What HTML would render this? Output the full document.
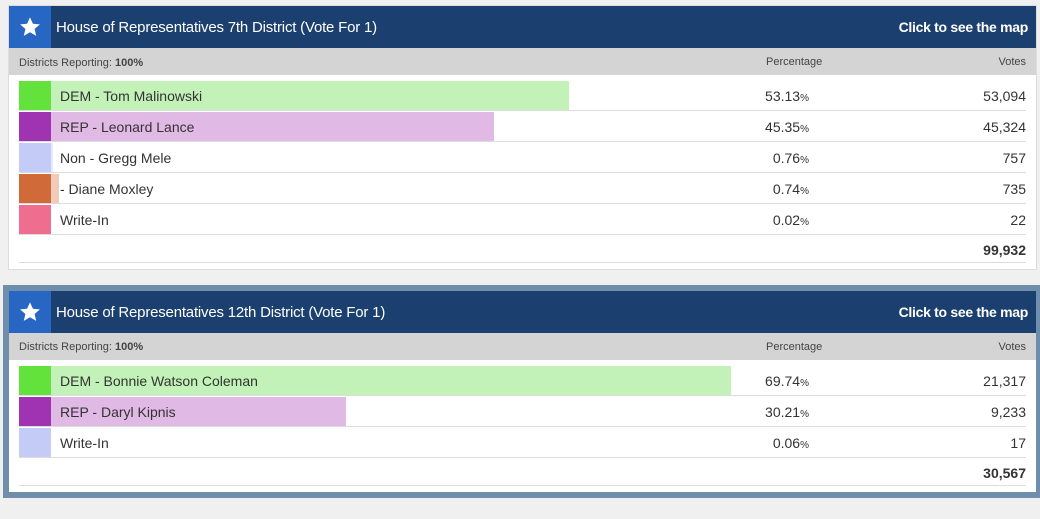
<!DOCTYPE html><html><head><style>
body{margin:0;width:1040px;height:519px;background:#f0f0f0;font-family:"Liberation Sans",sans-serif;position:relative;overflow:hidden;color:#333}
.a{position:absolute}
.panel{background:#fff}
.hd{background:#1b3f6e;color:#fff;font-size:15px}
.st{background:#2866c4}
.sub{background:#d4d4d4;font-size:11px;color:#444}
.t{font-size:14px;color:#333;white-space:nowrap}
.r{text-align:right}
.sep{height:1px;background:#ddd}
</style></head><body>
<!-- panel 1 -->
<div class="a panel" style="left:8px;top:5px;width:1029px;height:265px;border:1px solid #ddd;box-sizing:border-box"></div>
<div class="a hd" style="left:9px;top:6px;width:1027px;height:42px"></div>
<div class="a st" style="left:9px;top:6px;width:42px;height:42px"></div>
<svg class="a" style="left:19px;top:16px" width="22" height="22" viewBox="0 0 24 24"><path d="M12 1.5l3.2 7 7.6.7-5.8 5 1.8 7.5L12 17.7 5.2 21.7 7 14.2 1.2 9.2l7.6-.7z" fill="#fff"/></svg>
<div class="a hd" style="left:56px;top:19px;letter-spacing:-0.2px">House of Representatives 7th District (Vote For 1)</div>
<div class="a hd r" style="right:12px;top:19px;font-size:14px;font-weight:bold;letter-spacing:-0.3px">Click to see the map</div>
<div class="a sub" style="left:9px;top:48px;width:1027px;height:27px"></div>
<div class="a sub" style="left:19px;top:55px;line-height:14px;padding-top:1px">Districts Reporting: <b>100%</b></div>
<div class="a sub" style="left:766px;top:56px">Percentage</div>
<div class="a sub r" style="right:14px;top:56px">Votes</div>

<div class="a" style="left:19px;top:81px;width:32px;height:29px;background:#62e23a"></div>
<div class="a" style="left:51px;top:81px;width:518px;height:29px;background:#c3f2b8"></div>
<div class="a" style="left:19px;top:112px;width:32px;height:29px;background:#a033b2"></div>
<div class="a" style="left:51px;top:112px;width:443px;height:29px;background:#e0b9e4"></div>
<div class="a" style="left:19px;top:143px;width:32px;height:29px;background:#c3cbf6"></div>
<div class="a" style="left:51px;top:143px;width:2px;height:29px;background:#e6eafc"></div>
<div class="a" style="left:19px;top:174px;width:32px;height:29px;background:#d06a38"></div>
<div class="a" style="left:51px;top:174px;width:8px;height:29px;background:#efcbb8"></div>
<div class="a" style="left:19px;top:205px;width:32px;height:29px;background:#ef6d8e"></div>
<div class="a sep" style="left:19px;top:110px;width:1007px"></div>
<div class="a sep" style="left:19px;top:141px;width:1007px"></div>
<div class="a sep" style="left:19px;top:172px;width:1007px"></div>
<div class="a sep" style="left:19px;top:203px;width:1007px"></div>
<div class="a sep" style="left:19px;top:234px;width:1007px"></div>
<div class="a sep" style="left:19px;top:262px;width:1007px"></div>

<div class="a t" style="left:60px;top:88px">DEM - Tom Malinowski</div>
<div class="a t" style="left:60px;top:119px">REP - Leonard Lance</div>
<div class="a t" style="left:60px;top:150px">Non - Gregg Mele</div>
<div class="a t" style="left:60px;top:181px">- Diane Moxley</div>
<div class="a t" style="left:60px;top:212px">Write-In</div>
<div class="a t r" style="right:231px;top:88px">53.13<small style="font-size:10px">%</small></div>
<div class="a t r" style="right:231px;top:119px">45.35<small style="font-size:10px">%</small></div>
<div class="a t r" style="right:231px;top:150px">0.76<small style="font-size:10px">%</small></div>
<div class="a t r" style="right:231px;top:181px">0.74<small style="font-size:10px">%</small></div>
<div class="a t r" style="right:231px;top:212px">0.02<small style="font-size:10px">%</small></div>
<div class="a t r" style="right:14px;top:88px">53,094</div>
<div class="a t r" style="right:14px;top:119px">45,324</div>
<div class="a t r" style="right:14px;top:150px">757</div>
<div class="a t r" style="right:14px;top:181px">735</div>
<div class="a t r" style="right:14px;top:212px">22</div>
<div class="a t r" style="right:14px;top:242px;font-weight:bold">99,932</div>

<!-- panel 2 -->
<div class="a" style="left:3px;top:285px;width:1037px;height:213px;background:#6e8eab"></div>
<div class="a panel" style="left:9px;top:291px;width:1027px;height:201px"></div>
<div class="a hd" style="left:9px;top:291px;width:1027px;height:42px"></div>
<div class="a st" style="left:9px;top:291px;width:42px;height:42px"></div>
<svg class="a" style="left:19px;top:301px" width="22" height="22" viewBox="0 0 24 24"><path d="M12 1.5l3.2 7 7.6.7-5.8 5 1.8 7.5L12 17.7 5.2 21.7 7 14.2 1.2 9.2l7.6-.7z" fill="#fff"/></svg>
<div class="a hd" style="left:56px;top:304px;letter-spacing:-0.2px">House of Representatives 12th District (Vote For 1)</div>
<div class="a hd r" style="right:12px;top:304px;font-size:14px;font-weight:bold;letter-spacing:-0.3px">Click to see the map</div>
<div class="a sub" style="left:9px;top:333px;width:1027px;height:27px"></div>
<div class="a sub" style="left:19px;top:341px">Districts Reporting: <b>100%</b></div>
<div class="a sub" style="left:766px;top:341px">Percentage</div>
<div class="a sub r" style="right:14px;top:341px">Votes</div>

<div class="a" style="left:19px;top:366px;width:32px;height:29px;background:#62e23a"></div>
<div class="a" style="left:51px;top:366px;width:680px;height:29px;background:#c3f2b8"></div>
<div class="a" style="left:19px;top:397px;width:32px;height:29px;background:#a033b2"></div>
<div class="a" style="left:51px;top:397px;width:295px;height:29px;background:#e0b9e4"></div>
<div class="a" style="left:19px;top:428px;width:32px;height:29px;background:#c3cbf6"></div>
<div class="a sep" style="left:19px;top:395px;width:1007px"></div>
<div class="a sep" style="left:19px;top:426px;width:1007px"></div>
<div class="a sep" style="left:19px;top:457px;width:1007px"></div>
<div class="a sep" style="left:19px;top:485px;width:1007px"></div>
<div class="a t" style="left:60px;top:373px">DEM - Bonnie Watson Coleman</div>
<div class="a t" style="left:60px;top:404px">REP - Daryl Kipnis</div>
<div class="a t" style="left:60px;top:435px">Write-In</div>
<div class="a t r" style="right:231px;top:373px">69.74<small style="font-size:10px">%</small></div>
<div class="a t r" style="right:231px;top:404px">30.21<small style="font-size:10px">%</small></div>
<div class="a t r" style="right:231px;top:435px">0.06<small style="font-size:10px">%</small></div>
<div class="a t r" style="right:14px;top:373px">21,317</div>
<div class="a t r" style="right:14px;top:404px">9,233</div>
<div class="a t r" style="right:14px;top:435px">17</div>
<div class="a t r" style="right:14px;top:465px;font-weight:bold">30,567</div>
</body></html>
